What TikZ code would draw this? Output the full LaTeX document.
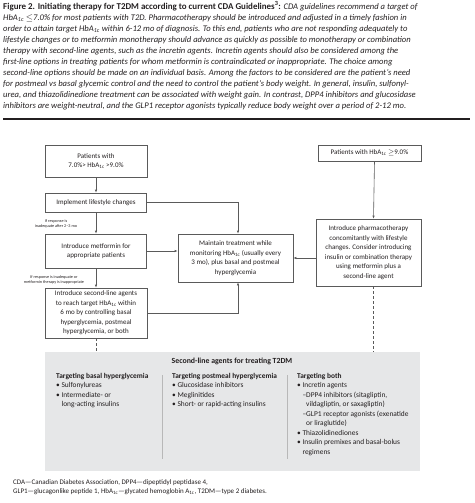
\documentclass[tikz,border=0pt]{standalone}
\usepackage{fontspec}
\setmainfont{Carlito}
\usetikzlibrary{arrows.meta,calc}
\definecolor{boxline}{HTML}{5A5A5A}
\definecolor{txt}{HTML}{231F20}
\definecolor{panel}{HTML}{E6E7E8}
\definecolor{divider}{HTML}{B8B8B8}
\newcommand{\hba}{HbA\textsubscript{1c}}
\newcommand{\bul}{\textbullet\ }
\newcommand{\bulsp}{\hphantom{\textbullet\ }}
\begin{document}
\begin{tikzpicture}[x=1pt,y=-1pt,
  box/.style={draw=boxline,line width=0.6pt,align=center,font=\fontsize{7}{9.5}\selectfont,text=txt,inner sep=1pt},
  arr/.style={draw=boxline,line width=0.6pt,-{Latex[length=3pt,width=2.4pt]}},
  dashline/.style={draw=boxline,line width=0.6pt,dash pattern=on 3pt off 2pt},
  tinylab/.style={font=\fontsize{4.2}{5}\selectfont,align=center,text=txt,inner sep=0},
  col/.style={anchor=north west,align=left,font=\fontsize{7.4}{9.5}\selectfont,text=txt,inner sep=0},
]
\useasboundingbox (0,0) rectangle (474,503);
% caption
\node[anchor=north west,align=left,font=\fontsize{8.6}{11}\selectfont,text=txt,inner sep=0] (cap) at (3,1) {%
{\fontsize{8.95}{11}\selectfont\textbf{Figure 2. Initiating therapy for T2DM according to current CDA Guidelines\textsuperscript{3}:}} \textit{CDA guidelines recommend a target of}\\
\textit{\hba{} $\leq$7.0\% for most patients with T2D. Pharmacotherapy should be introduced and adjusted in a timely fashion in}\\
\textit{order to attain target \hba{} within 6-12 mo of diagnosis. To this end, patients who are not responding adequately to}\\
\textit{lifestyle changes or to metformin monotherapy should advance as quickly as possible to monotherapy or combination}\\
\textit{therapy with second-line agents, such as the incretin agents. Incretin agents should also be considered among the}\\
\textit{first-line options in treating patients for whom metformin is contraindicated or inappropriate. The choice among}\\
\textit{second-line options should be made on an individual basis. Among the factors to be considered are the patient's need}\\
\textit{for postmeal vs basal glycemic control and the need to control the patient's body weight. In general, insulin, sulfonyl-}\\
\textit{urea, and thiazolidinedione treatment can be associated with weight gain. In contrast, DPP4 inhibitors and glucosidase}\\
\textit{inhibitors are weight-neutral, and the GLP1 receptor agonists typically reduce body weight over a period of 2-12 mo.}};
\coordinate (ruleL) at (3,119);
\coordinate (ruleR) at (470,119);
\draw[txt,line width=1.2pt] (ruleL) -- (ruleR);
% boxes
\node[box,minimum width=102pt,minimum height=32pt] (p1) at (96,161) {Patients with\\7.0\%> \hba{} >9.0\%};
\node[box,minimum width=103pt,minimum height=16pt] (p2) at (369.5,153) {Patients with \hba{} $\geq$9.0\%};
\node[box,minimum width=101pt,minimum height=19pt] (life) at (96,202.5) {Implement lifestyle changes};
\node[box,minimum width=101pt,minimum height=34pt] (met) at (96,251) {Introduce metformin for\\appropriate patients};
\node[box,minimum width=102pt,minimum height=50pt] (sec) at (96,313) {Introduce second-line agents\\to reach target \hba{} within\\6 mo by controlling basal\\hyperglycemia, postmeal\\hyperglycemia, or both};
\node[box,minimum width=115pt,minimum height=48pt] (maint) at (235.5,258) {Maintain treatment while\\monitoring \hba{} (usually every\\3 mo), plus basal and postmeal\\hyperglycemia};
\node[box,minimum width=105pt,minimum height=67pt] (pharm) at (368.5,252.5) {Introduce pharmacotherapy\\concomitantly with lifestyle\\changes. Consider introducing\\insulin or combination therapy\\using metformin plus a\\second-line agent};
% small labels
\node[tinylab] (lab1) at (56,223.5) {If response is\\inadequate after 2–3 mo};
\node[tinylab] (lab2) at (54,279.5) {If response is inadequate or\\metformin therapy is inappropriate};
% panel
\node[fill=panel,minimum width=375pt,minimum height=119pt,inner sep=0,anchor=north west] (panel) at (45,352) {};
\node[font=\bfseries\fontsize{7.8}{9.5}\selectfont,text=txt,inner sep=0] (ptitle) at (232,361) {Second-line agents for treating T2DM};
\node[col] (c1) at (56,373) {\textbf{Targeting basal hyperglycemia}\\\bul Sulfonylureas\\\bul Intermediate- or\\\bulsp long-acting insulins};
\node[col] (c2) at (172,373) {\textbf{Targeting postmeal hyperglycemia}\\\bul Glucosidase inhibitors\\\bul Meglinitides\\\bul Short- or rapid-acting insulins};
\node[col] (c3) at (297,373) {\textbf{Targeting both}\\\bul Incretin agents\\\bulsp –DPP4 inhibitors (sitagliptin,\\\bulsp\hphantom{–}vildagliptin, or saxagliptin)\\\bulsp –GLP1 receptor agonists (exenatide\\\bulsp\hphantom{–}or liraglutide)\\\bul Thiazolidinediones\\\bul Insulin premixes and basal-bolus\\\bulsp regimens};
\coordinate (d1t) at (162,375);
\coordinate (d1b) at (162,459);
\coordinate (d2t) at (287,375);
\coordinate (d2b) at (287,459);
\draw[divider,line width=0.8pt] (d1t) -- (d1b);
\draw[divider,line width=0.8pt] (d2t) -- (d2b);
% footnote
\node[anchor=north west,align=left,font=\fontsize{7}{9}\selectfont,text=txt,inner sep=0] (foot) at (13,479) {CDA—Canadian Diabetes Association, DPP4—dipeptidyl peptidase 4,\\GLP1—glucagonlike peptide 1, \hba—glycated hemoglobin A\textsubscript{1c}, T2DM—type 2 diabetes.};
% connectors
\draw[arr] (p1.south) -- (life.north);
\draw[arr] (life.south) -- (met.north);
\draw[arr] (met.south) -- (sec.north);
\draw[arr] (life.east) -| ([xshift=2.5pt]maint.north);
\draw[arr] (met.east) -- (met.east -| maint.west);
\draw[arr] (sec.east) -| ([xshift=2.5pt]maint.south);
\draw[arr] ([xshift=5pt]p2.south) -- ([xshift=5pt]pharm.north);
\draw[arr] (pharm.west |- maint.east) -- (maint.east);
\draw[dashline] (sec.south) -- (sec.south |- panel.north);
\draw[dashline] ([xshift=5pt]pharm.south) -- ([xshift=5pt]pharm.south |- panel.north);
\end{tikzpicture}
\end{document}
